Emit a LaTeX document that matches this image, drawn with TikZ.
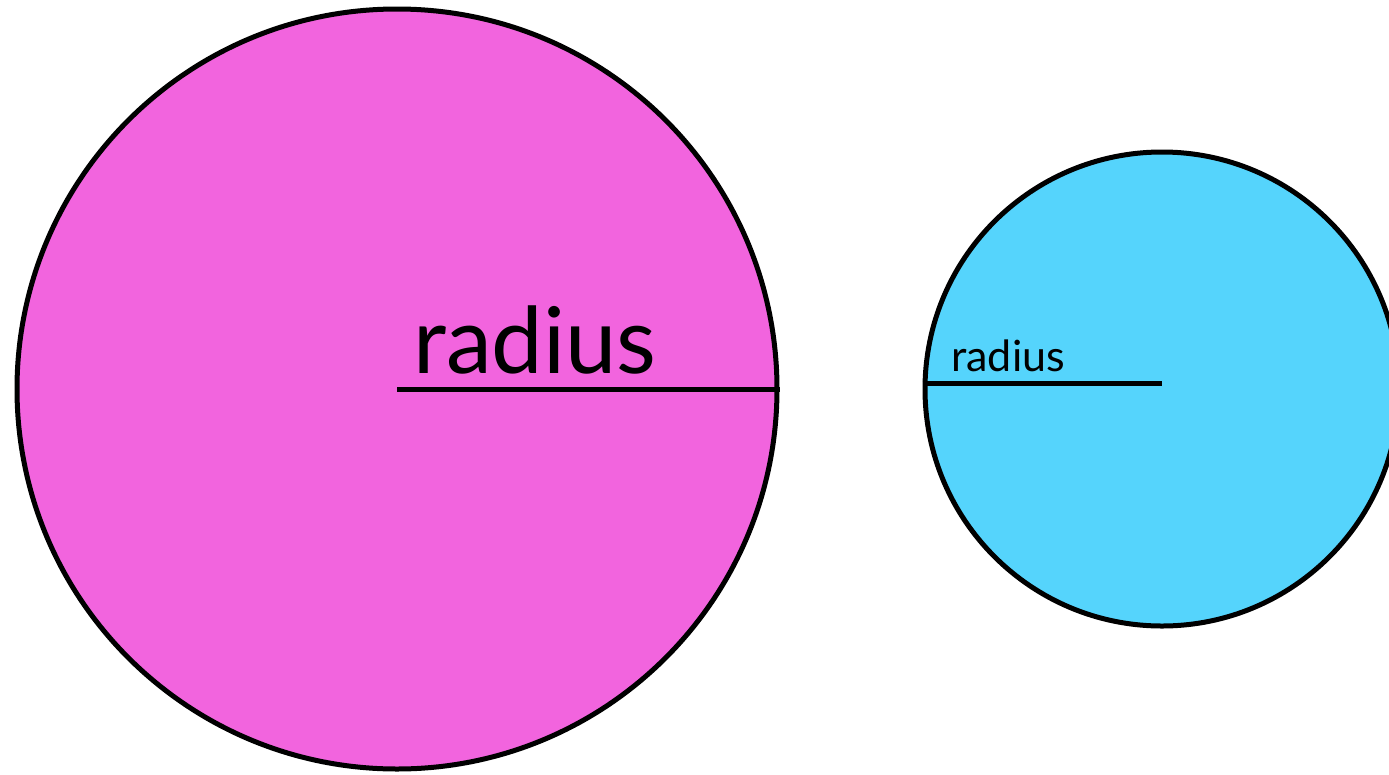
\documentclass[tikz,border=0pt]{standalone}
\usepackage{fontspec}
\setmainfont{Lato}
\definecolor{pinkfill}{HTML}{F264DE}
\definecolor{bluefill}{HTML}{55D4FC}
\begin{document}
\begin{tikzpicture}[x=1pt,y=-1pt,
  disc/.style={circle,draw=black,line width=5pt,inner sep=0pt},
  rad/.style={line width=5pt,black}]
\useasboundingbox (0,0) rectangle (1389,774);
\clip (0,0) rectangle (1389,774);
\node[disc,fill=pinkfill,minimum size=760pt] (pink) at (397,389) {};
\node[disc,fill=bluefill,minimum size=474pt] (blue) at (1162,389) {};
\draw[rad] (pink.center) -- (pink.east);
\draw[rad] ([yshift=6pt]blue.west) -- ([yshift=6pt]blue.center);
\node[anchor=base west,inner sep=0pt,font=\fontsize{92}{94}\selectfont] (bigtxt) at (413,373) {radius};
\node[anchor=base west,inner sep=0pt,font=\fontsize{43}{45}\selectfont] (smalltxt) at (951,371) {radius};
\end{tikzpicture}
\end{document}
